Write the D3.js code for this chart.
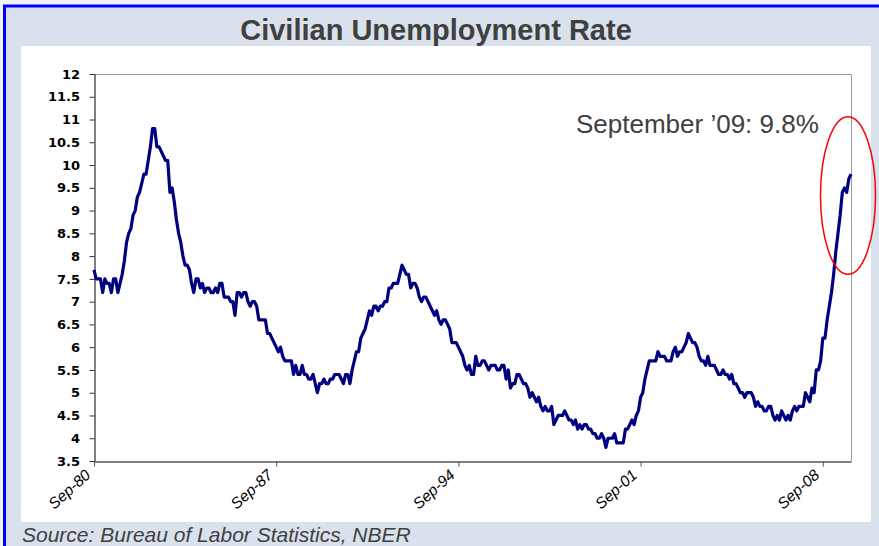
<!DOCTYPE html>
<html>
<head>
<meta charset="utf-8">
<script src="https://cdn.jsdelivr.net/npm/d3@7"></script>
<style>
  body { margin: 0; background: #f4f4fb; }
  svg { display: block; }
</style>
</head>
<body>
<svg id="chart" width="879" height="546"></svg>
<script>
// monthly civilian unemployment rate, Aug 1980 .. Sep 2009
var rate = [
  7.7, 7.5, 7.5, 7.5, 7.2,                                        // 1980
  7.5, 7.4, 7.4, 7.2, 7.5, 7.5, 7.2, 7.4, 7.6, 7.9, 8.3, 8.5,     // 1981
  8.6, 8.9, 9.0, 9.3, 9.4, 9.6, 9.8, 9.8, 10.1, 10.4, 10.8, 10.8, // 1982
  10.4, 10.4, 10.3, 10.2, 10.1, 10.1, 9.4, 9.5, 9.2, 8.8, 8.5, 8.3, // 1983
  8.0, 7.8, 7.8, 7.7, 7.4, 7.2, 7.5, 7.5, 7.3, 7.4, 7.2, 7.3,     // 1984
  7.3, 7.2, 7.2, 7.3, 7.2, 7.4, 7.4, 7.1, 7.1, 7.1, 7.0, 7.0,     // 1985
  6.7, 7.2, 7.2, 7.1, 7.2, 7.2, 7.0, 6.9, 7.0, 7.0, 6.9, 6.6,     // 1986
  6.6, 6.6, 6.6, 6.3, 6.3, 6.2, 6.1, 6.0, 5.9, 6.0, 5.8, 5.7,     // 1987
  5.7, 5.7, 5.7, 5.4, 5.6, 5.4, 5.4, 5.6, 5.4, 5.4, 5.3, 5.3,     // 1988
  5.4, 5.2, 5.0, 5.2, 5.2, 5.3, 5.2, 5.2, 5.3, 5.3, 5.4, 5.4,     // 1989
  5.4, 5.3, 5.2, 5.4, 5.4, 5.2, 5.5, 5.7, 5.9, 5.9, 6.2, 6.3,     // 1990
  6.4, 6.6, 6.8, 6.7, 6.9, 6.9, 6.8, 6.9, 6.9, 7.0, 7.0, 7.3,     // 1991
  7.3, 7.4, 7.4, 7.4, 7.6, 7.8, 7.7, 7.6, 7.6, 7.3, 7.4, 7.4,     // 1992
  7.3, 7.1, 7.0, 7.1, 7.1, 7.0, 6.9, 6.8, 6.7, 6.8, 6.6, 6.5,     // 1993
  6.6, 6.6, 6.5, 6.4, 6.1, 6.1, 6.1, 6.0, 5.9, 5.8, 5.6, 5.5,     // 1994
  5.6, 5.4, 5.4, 5.8, 5.6, 5.6, 5.7, 5.7, 5.6, 5.5, 5.6, 5.6,     // 1995
  5.6, 5.5, 5.5, 5.6, 5.6, 5.3, 5.5, 5.1, 5.2, 5.2, 5.4, 5.4,     // 1996
  5.3, 5.2, 5.2, 5.1, 4.9, 5.0, 4.9, 4.8, 4.9, 4.7, 4.6, 4.7,     // 1997
  4.6, 4.6, 4.7, 4.3, 4.4, 4.5, 4.5, 4.5, 4.6, 4.5, 4.4, 4.4,     // 1998
  4.3, 4.4, 4.2, 4.3, 4.2, 4.3, 4.3, 4.2, 4.2, 4.1, 4.1, 4.0,     // 1999
  4.0, 4.1, 4.0, 3.8, 4.0, 4.0, 4.0, 4.1, 3.9, 3.9, 3.9, 3.9,     // 2000
  4.2, 4.2, 4.3, 4.4, 4.3, 4.5, 4.6, 4.9, 5.0, 5.3, 5.5, 5.7,     // 2001
  5.7, 5.7, 5.7, 5.9, 5.8, 5.8, 5.8, 5.7, 5.7, 5.7, 5.9, 6.0,     // 2002
  5.8, 5.9, 5.9, 6.0, 6.1, 6.3, 6.2, 6.1, 6.1, 6.0, 5.8, 5.7,     // 2003
  5.7, 5.6, 5.8, 5.6, 5.6, 5.6, 5.5, 5.4, 5.4, 5.5, 5.4, 5.4,     // 2004
  5.3, 5.4, 5.2, 5.2, 5.1, 5.0, 5.0, 4.9, 5.0, 5.0, 5.0, 4.9,     // 2005
  4.7, 4.8, 4.7, 4.7, 4.6, 4.6, 4.7, 4.7, 4.5, 4.4, 4.5, 4.4,     // 2006
  4.6, 4.5, 4.4, 4.5, 4.4, 4.6, 4.7, 4.6, 4.7, 4.7, 4.7, 5.0,     // 2007
  4.9, 4.8, 5.1, 5.0, 5.5, 5.5, 5.7, 6.2, 6.2, 6.6, 6.9, 7.2,     // 2008
  7.6, 8.1, 8.5, 8.9, 9.4, 9.5, 9.4, 9.7, 9.8                     // 2009
];

// category ticks every 84 months
var tickIndex = [0, 84, 168, 252, 336];
var tickLabels = ["Sep-80", "Sep-87", "Sep-94", "Sep-01", "Sep-08"];
var yTicks = [3.5, 4, 4.5, 5, 5.5, 6, 6.5, 7, 7.5, 8, 8.5, 9, 9.5, 10, 10.5, 11, 11.5, 12];

var titleText = "Civilian Unemployment Rate";
var noteText = "September \u201909: 9.8%";
var sourceText = "Source: Bureau of Labor Statistics, NBER";

var svg = d3.select("#chart");

// frame
svg.append("rect")
    .attr("x", 4.5).attr("y", 6)
    .attr("width", 900).attr("height", 600)
    .attr("fill", "#d9e2ec")
    .attr("stroke", "#0000ff")
    .attr("stroke-width", 3);

svg.append("rect")
    .attr("x", 21).attr("y", 46)
    .attr("width", 850).attr("height", 476)
    .attr("fill", "#fff");

var plotLeft = 94, plotRight = 851, plotTop = 74, plotBottom = 461;

var x = d3.scaleLinear()
    .domain([0, rate.length - 1])
    .range([plotLeft, plotRight]);

var y = d3.scaleLinear()
    .domain([3.5, 12])
    .range([plotBottom, plotTop]);

// plot border top/right
svg.append("path")
    .attr("d", "M" + plotLeft + "," + (plotTop + 0.5) + "H" + (plotRight + 0.5) + "V" + plotBottom)
    .attr("fill", "none")
    .attr("stroke", "#999")
    .attr("stroke-width", 1);

var yAxis = svg.append("g")
    .attr("transform", "translate(" + (plotLeft + 0.5) + ",0)")
    .call(d3.axisLeft(y)
        .tickValues(yTicks)
        .tickSize(5)
        .tickSizeOuter(0)
        .tickPadding(9.5)
        .tickFormat(d3.format("")));

yAxis.select(".domain").attr("stroke", "#000");
yAxis.selectAll(".tick line").attr("stroke", "#333");
yAxis.selectAll("text")
    .attr("font-family", "DejaVu Sans")
    .attr("font-weight", "bold")
    .attr("font-size", 13)
    .attr("fill", "#000");

var xAxis = svg.append("g")
    .attr("transform", "translate(0," + (plotBottom + 0.5) + ")")
    .call(d3.axisBottom(x)
        .tickValues(tickIndex)
        .tickSize(5)
        .tickSizeOuter(0)
        .tickFormat(function(d, i) { return tickLabels[i]; }));

xAxis.select(".domain").attr("stroke", "#555").attr("stroke-width", 1.5);
xAxis.selectAll(".tick line").attr("stroke", "#555");
xAxis.selectAll("text")
    .attr("font-family", "Liberation Sans, Arial")
    .attr("font-style", "italic")
    .attr("font-size", 15.5)
    .attr("fill", "#000")
    .attr("text-anchor", "end")
    .attr("dy", 0)
    .attr("y", 0)
    .attr("transform", "translate(-3,15) rotate(-42)");

// the series
var line = d3.line()
    .x(function(d, i) { return x(i); })
    .y(function(d) { return y(d); });

svg.append("path")
    .datum(rate)
    .attr("d", line)
    .attr("fill", "none")
    .attr("stroke", "#000080")
    .attr("stroke-width", 3.2)
    .attr("stroke-linejoin", "round");

// annotation
var last = rate.length - 1;
svg.append("ellipse")
    .attr("cx", x(last) - 3)
    .attr("cy", y(9.33))
    .attr("rx", 27.5)
    .attr("ry", y(7.6) - y(9.33))
    .attr("fill", "none")
    .attr("stroke", "#ff0000")
    .attr("stroke-width", 1.5);

svg.append("text")
    .attr("x", 576).attr("y", 133)
    .attr("font-family", "Liberation Sans, Arial")
    .attr("font-size", 26)
    .attr("fill", "#404040")
    .text(noteText);

svg.append("text")
    .attr("x", 436).attr("y", 40)
    .attr("text-anchor", "middle")
    .attr("font-family", "Liberation Sans, Arial")
    .attr("font-weight", "bold")
    .attr("font-size", 29)
    .attr("fill", "#404040")
    .text(titleText);

svg.append("text")
    .attr("x", 22).attr("y", 542)
    .attr("font-family", "Liberation Sans, Arial")
    .attr("font-style", "italic")
    .attr("font-size", 21)
    .attr("fill", "#404040")
    .text(sourceText);
</script>
</body>
</html>
